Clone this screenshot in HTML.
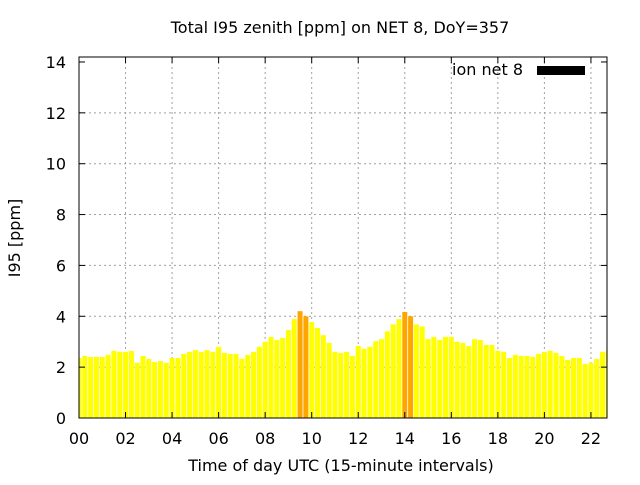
<!DOCTYPE html>
<html><head><meta charset="utf-8"><style>
body{margin:0;background:#fff}
svg text{font-family:"DejaVu Sans","Liberation Sans",sans-serif;fill:#000}
</style></head><body>
<svg id="c" width="640" height="480">
<text x="340" y="33" font-size="16" text-anchor="middle">Total I95 zenith [ppm] on NET 8, DoY=357</text>
<text x="341" y="471" font-size="16" text-anchor="middle">Time of day UTC (15-minute intervals)</text>
<text transform="translate(20,238) rotate(-90)" font-size="16" text-anchor="middle">I95 [ppm]</text>
<g id="grid"></g><g id="bars"></g><g id="ticks"></g>
<rect x="79" y="57" width="528" height="361" fill="none" stroke="#000" stroke-width="1"/>
<text x="523" y="75" font-size="16" text-anchor="end">ion net 8</text>
<rect x="537" y="66" width="48" height="9" fill="#000"/>
</svg>
<script>
const values=[2.36,2.44,2.40,2.40,2.40,2.48,2.64,2.60,2.60,2.64,2.17,2.44,2.32,2.20,2.24,2.17,2.36,2.36,2.52,2.60,2.67,2.60,2.67,2.60,2.80,2.56,2.52,2.52,2.32,2.48,2.60,2.80,3.00,3.19,3.07,3.15,3.46,3.89,4.20,4.00,3.77,3.54,3.26,2.95,2.60,2.56,2.60,2.44,2.83,2.72,2.80,3.02,3.10,3.41,3.68,3.89,4.17,4.00,3.68,3.60,3.10,3.19,3.07,3.19,3.19,3.00,2.95,2.83,3.10,3.07,2.87,2.87,2.64,2.60,2.36,2.48,2.44,2.44,2.40,2.52,2.60,2.64,2.56,2.44,2.28,2.36,2.36,2.13,2.17,2.32,2.60,2.64];
const xTicks=["00","02","04","06","08","10","12","14","16","18","20","22"];
const yTicks=[0,2,4,6,8,10,12,14];
const threshold=4;
const X0=79,X1=607,Y0=418,YT=57;
const xs=h=>X0+h*23.27;
const ys=v=>Y0-v*25.43;
const NS="http://www.w3.org/2000/svg";
function mk(t,a,p){const e=document.createElementNS(NS,t);for(const k in a)e.setAttribute(k,a[k]);p.appendChild(e);return e;}
const grid=document.getElementById('grid'),bars=document.getElementById('bars'),ticks=document.getElementById('ticks');
yTicks.forEach(v=>{const y=ys(v);
 if(v>0&&v<14){const l=mk('line',{x1:X0,x2:X1,y1:y,y2:y,stroke:'#a0a0a0','stroke-dasharray':'2,3'},grid);
 
 }
 mk('line',{x1:X0,x2:X0+6,y1:y,y2:y,stroke:'#000'},ticks);
 mk('line',{x1:X1,x2:X1-6,y1:y,y2:y,stroke:'#000'},ticks);
 const t=mk('text',{x:X0-13,y:y+6,'font-size':16,'text-anchor':'end'},ticks);t.textContent=v;
 
 });
xTicks.forEach((s,i)=>{const x=xs(i*2);
 if(i>0){const l=mk('line',{x1:x,x2:x,y1:YT,y2:Y0,stroke:'#a0a0a0','stroke-dasharray':'2,3'},grid);
 
 }
 mk('line',{x1:x,x2:x,y1:Y0,y2:Y0-6,stroke:'#000'},ticks);
 mk('line',{x1:x,x2:x,y1:YT,y2:YT+6,stroke:'#000'},ticks);
 const t=mk('text',{x:x,y:444,'font-size':16,'text-anchor':'middle'},ticks);t.textContent=s;
 
 });
values.forEach((v,i)=>{const c=xs(i/4);let l=Math.max(c-2.5,X0),r=Math.min(c+2.5,X1);
 if(r<=l)return;
 const b=mk('rect',{x:l,y:ys(v),width:r-l,height:Y0-ys(v),fill:v>=threshold?'#ffa500':'#ffff00'},bars);
 
 });
</script>
</body></html>
